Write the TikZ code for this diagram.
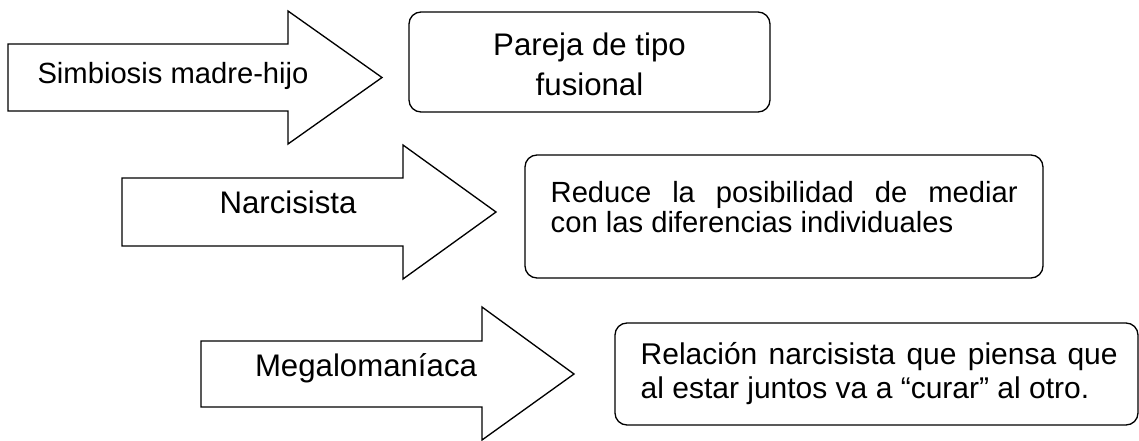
\documentclass[tikz,border=0pt]{standalone}
\usepackage{fontspec}
\setmainfont{Liberation Sans}
\usetikzlibrary{positioning}

\begin{document}
\begin{tikzpicture}[x=0.75pt, y=-0.75pt, line width=1pt,
    bigfont/.style={font=\fontsize{23.4}{30}\selectfont},
    smallfont/.style={font=\fontsize{21.9}{22}\selectfont},
    fatarrow/.style={draw, line join=miter},
    roundbox/.style={draw, rounded corners=9pt, inner sep=0pt},
    boxtext/.style={inner sep=0pt}]
                \useasboundingbox (0,0) rectangle (1139,440);
                %the three big arrows
                \draw[fatarrow] (8,44) -- (288,44) -- (288,11) -- (382,77.5) -- (288,144) -- (288,111) -- (8,111) -- cycle;
                \draw[fatarrow] (122,178) -- (403,178) -- (403,145) -- (496,212) -- (403,279) -- (403,246) -- (122,246) -- cycle;
                \draw[fatarrow] (201,341) -- (482,341) -- (482,307) -- (574,374) -- (482,440) -- (482,407) -- (201,407) -- cycle;

                \node[smallfont, inner sep=0pt, anchor=base] (simbiosis) at (173,83) {Simbiosis madre-hijo};
                \node[bigfont, inner sep=0pt, anchor=base] (narcisista) at (288,213) {Narcisista};
                \node[bigfont, inner sep=0pt, anchor=base] (megalo) at (366,376) {Megalomaníaca};

                %rounded boxes on the right
                \node[roundbox, minimum width=270.75pt, minimum height=75pt] (fusional) at (589.5,62) {};
                \node[roundbox, minimum width=388.5pt, minimum height=92.25pt] (reduce) at (784,216.5) {};
                \node[roundbox, minimum width=392.25pt, minimum height=76.5pt] (relacion) at (876.5,374) {};

                \node[boxtext, bigfont, align=center, anchor=north] (fusionaltxt) at (589.5,32)
                    {Pareja de tipo\\fusional};
                \node[boxtext, font=\fontsize{21.9}{22.5}\selectfont, text width=350.25pt, align=justify, anchor=north west] (reducetxt) at (550,181)
                    {Reduce la posibilidad de mediar\linebreak con las diferencias individuales};
                \node[boxtext, font=\fontsize{22.5}{25.5}\selectfont, text width=357.75pt, align=justify, anchor=north west] (relaciontxt) at (640,342)
                    {Relación narcisista que piensa que\linebreak al estar juntos va a “curar” al otro.};
\end{tikzpicture}
\end{document}
